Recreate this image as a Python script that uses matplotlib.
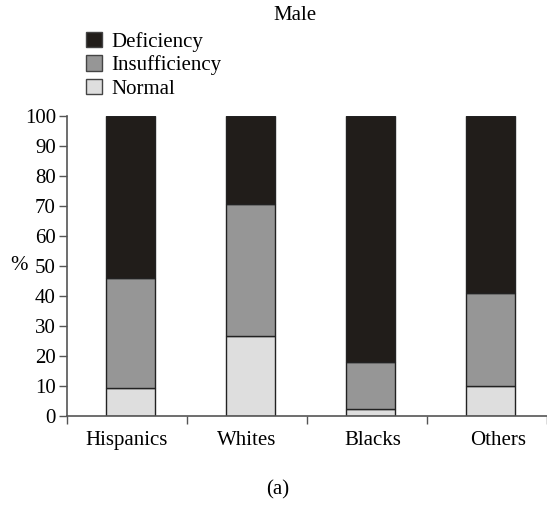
import numpy as np
import matplotlib.pyplot as plt
from matplotlib.patches import Patch

groups = ['Hispanics', 'Whites', 'Blacks', 'Others']
normal = [9.3, 26.7, 2.2, 10.0]
insufficiency = [36.8, 44.0, 15.7, 31.1]
deficiency = [53.9, 29.3, 82.1, 58.9]
series_names = ['Deficiency', 'Insufficiency', 'Normal']
yticks = [0, 10, 20, 30, 40, 50, 60, 70, 80, 90, 100]

plt.rcParams['font.family'] = ['Liberation Serif', 'DejaVu Serif']
plt.rcParams['font.size'] = 15

col_def = '#211d1a'
col_ins = '#969696'
col_nor = '#dedede'
edge = '#222222'

fig = plt.figure(figsize=(5.47, 5.12), dpi=100)
ax = fig.add_axes([67 / 547, 96 / 512, 480 / 547, 300 / 512])

x = np.arange(len(groups)) + 0.03
w = 0.41
bottom_ins = np.array(normal)
bottom_def = bottom_ins + np.array(insufficiency)
ax.bar(x, normal, w, color=col_nor, edgecolor=edge, linewidth=1)
ax.bar(x, insufficiency, w, bottom=bottom_ins, color=col_ins, edgecolor=edge, linewidth=1)
ax.bar(x, deficiency, w, bottom=bottom_def, color=col_def, edgecolor=edge, linewidth=1)

ax.set_xlim(-0.5, 3.5)
ax.set_ylim(0, 100)
ax.set_yticks(yticks)
ax.set_xticks(np.arange(-0.5, 3.6, 1.0))
ax.set_xticklabels([])
# labels sit slightly off the bar centres in the original
ax.set_xticks(np.arange(len(groups)) + np.array([0.0, 0.0, 0.05, 0.09]), minor=True)
ax.set_xticklabels(groups, minor=True)
ax.tick_params(axis='x', which='minor', length=0, pad=11)
ax.tick_params(axis='x', which='major', length=6, width=1, color='#555555', direction='out')
ax.tick_params(axis='y', length=6, width=1, color='#555555', direction='out', pad=2)

for s in ['top', 'right']:
    ax.spines[s].set_visible(False)
for s in ['left', 'bottom']:
    ax.spines[s].set_color('#555555')
    ax.spines[s].set_linewidth(1.2)

fig.text(19 / 547, 1 - 266 / 512, '%', ha='center', va='center')
fig.text(295 / 547, 1 - 15 / 512, 'Male', ha='center', va='center')
fig.text(278 / 547, 1 - 490 / 512, '(a)', ha='center', va='center')

handles = [Patch(facecolor=c, edgecolor='#444444', linewidth=1) for c in [col_def, col_ins, col_nor]]
fig.legend(handles, series_names, loc='upper left', bbox_to_anchor=(86 / 547, 1 - 32 / 512),
           frameon=False, handlelength=0.75, handleheight=0.75, handletextpad=0.45,
           labelspacing=0.17, borderpad=0, borderaxespad=0)

fig.savefig('out.png', dpi=100)
